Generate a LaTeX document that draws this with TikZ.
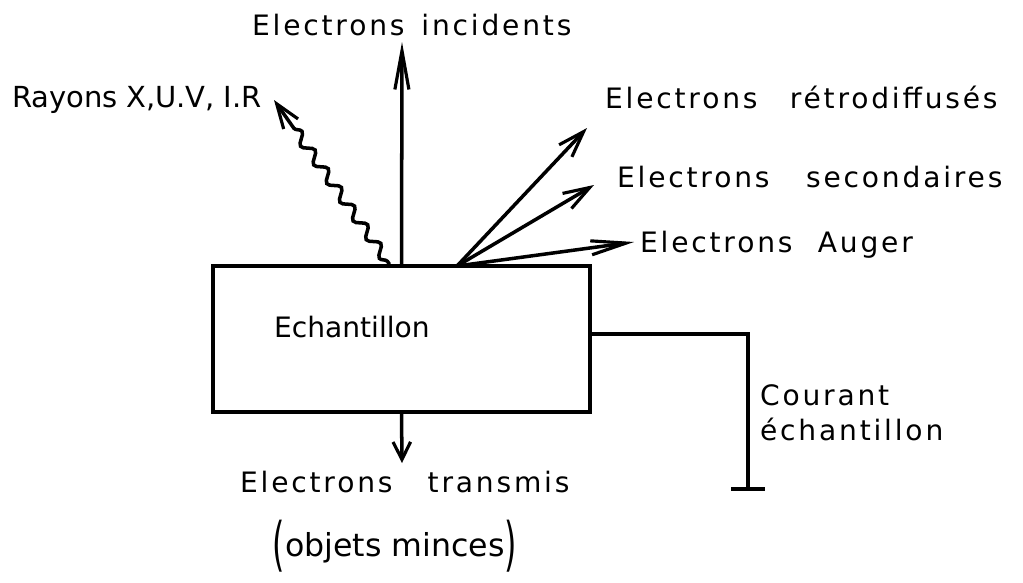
\documentclass[tikz,border=0pt]{standalone}
\usepackage{fontspec}
\usepackage{graphicx}
\setmainfont{DejaVu Sans}[LetterSpace=10]
\newfontfamily\plainfont{DejaVu Sans}
\usetikzlibrary{arrows.meta,decorations.pathmorphing}

\tikzset{
  px/.style={x=0.02cm,y=-0.02cm},
  lbl/.style={font=\fontsize{16}{20}\selectfont,inner sep=1pt},
  tight/.style={font=\plainfont\fontsize{16.5}{20}\selectfont,inner sep=1pt},
  wire/.style={line width=2pt},
  ray/.style={wire,-{Straight Barb[length=#1,width=10pt,line width=1.8pt]}},
  ray/.default=15pt,
  wave/.style={ray=14pt,decorate,decoration={snake,amplitude=2.8pt,segment length=13pt,pre length=2pt,post length=14pt}},
}

\begin{document}
\begin{tikzpicture}[px]
  \useasboundingbox (0,0) rectangle (1023,582);
  % sample
  \node[tight,draw,wire,minimum width=7.54cm,minimum height=2.92cm,inner sep=0pt] (ech) at (401.5,339) {};
  \node[tight,font=\plainfont\fontsize{16}{20}\selectfont,anchor=west] (echtxt) at (272,327) {Echantillon};
  % labels
  \node[lbl,anchor=west] (inc) at (250,25) {Electrons\hspace{0.6em}incidents};
  \node[tight,anchor=west] (rx) at (10,100) {Rayons\hspace{0.3em}X,U.V,\hspace{0.3em}I.R};
  \node[lbl,anchor=west] (retro) at (603,97) {Electrons\hspace{1.15em}rétrodiffusés};
  \node[lbl,anchor=west] (sec) at (615,177) {Electrons\hspace{1.3em}secondaires};
  \node[lbl,anchor=west] (aug) at (638,245) {Electrons\hspace{0.9em}Auger};
  \node[lbl,anchor=west] (trans) at (238,482) {Electrons\hspace{1.25em}transmis};
  \node[font=\plainfont\fontsize{18}{20}\selectfont,inner sep=1pt] (minces) at (395,546) {\raisebox{-0.25em}{\scalebox{1}[1.85]{(}}objets minces\raisebox{-0.25em}{\scalebox{1}[1.85]{)}}};
  \node[lbl,anchor=west,align=left] (cour) at (758,413) {Courant\\échantillon};
  % tips
  \coordinate (src) at (457,266);
  \coordinate (tinc) at (402,42);
  \coordinate (trx) at (274,100);
  \coordinate (tretro) at (587,128);
  \coordinate (tsec) at (594,185);
  \coordinate (taug) at (634,242);
  \coordinate (ttrans) at (402,463);
  \coordinate (gnd) at (748,489);
  % emissions
  \draw[ray=22pt,-{Straight Barb[length=22pt,width=8pt,line width=1.8pt]}] (ech.north) -- (tinc);
  \draw[wave] (ech.north) ++(-12,0) -- (trx);
  \draw[ray] (src) -- (tretro);
  \draw[ray] (src) -- (tsec);
  \draw[ray=20pt,-{Straight Barb[length=20pt,width=8pt,line width=1.8pt]}] (src) -- (taug);
  \draw[ray=10pt] (ech.south) -- (ttrans);
  % current to ground
  \draw[wire] (ech.east) ++(0,-5) -| (gnd);
  \draw[wire] (gnd) ++(-17,0) -- ++(34,0);
\end{tikzpicture}
\end{document}
